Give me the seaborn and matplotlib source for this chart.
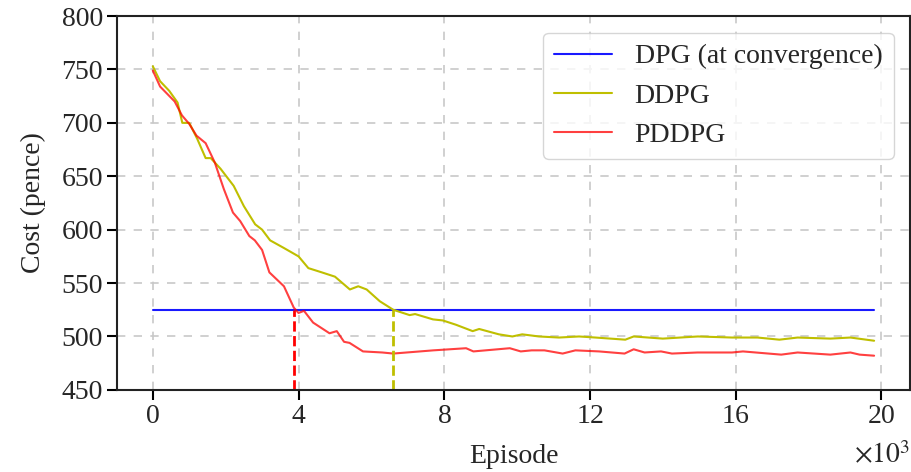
#!/usr/bin/env python3

import numpy as np
import matplotlib
matplotlib.use('Agg')
import matplotlib.pyplot as plt
import pandas as pd
import seaborn as sns

# Data (episodes, cost in pence)
dpg_x = [0, 19800]
dpg_y = [525, 525]

ddpg_x = [0, 200, 450, 680, 810, 1000, 1220, 1450, 1590, 1860, 2220, 2500, 2810, 3000,
          3220, 3590, 4000, 4270, 4640, 5000, 5410, 5640, 5870, 6230, 6600, 7050, 7200,
          7690, 7960, 8320, 8780, 8960, 9500, 9870, 10140, 10600, 11150, 11700, 12150,
          12970, 13200, 14000, 14960, 15900, 16600, 17200, 17700, 18600, 19150, 19800]
ddpg_y = [753, 739, 730, 719, 700, 700, 685, 667, 667, 657, 641, 622, 605, 600,
          590, 583, 575, 564, 560, 556, 544, 547, 544, 533, 525, 520, 521,
          516, 515, 511, 505, 507, 502, 500, 502, 500, 499, 500, 499,
          497, 500, 498, 500, 499, 499, 497, 499, 498, 499, 496]

pddpg_x = [0, 200, 600, 800, 1000, 1200, 1450, 1700, 1950, 2200, 2400, 2650, 2800, 3000,
           3200, 3600, 3870, 4000, 4150, 4400, 4850, 5050, 5250, 5400, 5770, 6300, 6600,
           7700, 8600, 8800, 9800, 10100, 10400, 10750, 11250, 11600, 12250, 12950, 13200,
           13500, 13950, 14250, 14950, 15900, 16200, 17250, 17700, 18600, 19150, 19400, 19800]
pddpg_y = [749, 734, 720, 707, 699, 688, 681, 663, 638, 616, 608, 594, 590, 581,
           560, 547, 527, 522, 524, 513, 503, 505, 495, 494, 486, 485, 484,
           487, 489, 486, 489, 486, 487, 487, 484, 487, 486, 484, 488,
           485, 486, 484, 485, 485, 486, 483, 485, 483, 485, 483, 482]

# episodes where each method reaches the DPG level
cross_x = [3870, 6600]
cross_colors = ['red', 'y']

sns.set_style('ticks')
plt.rcParams['font.family'] = ['Liberation Serif', 'DejaVu Serif']
plt.rcParams['mathtext.fontset'] = 'stix'

fs = 20
fig, ax = plt.subplots(figsize=(9.12, 4.72), dpi=100)
fig.subplots_adjust(left=0.128, right=0.998, top=0.966, bottom=0.174)

sns.lineplot(x=dpg_x, y=dpg_y, color='blue', lw=1.5, alpha=0.9, label='DPG (at convergence)', ax=ax)
sns.lineplot(x=ddpg_x, y=ddpg_y, color='y', lw=1.5, label='DDPG', ax=ax)
sns.lineplot(x=pddpg_x, y=pddpg_y, color='red', lw=1.5, alpha=0.75, label='PDDPG', ax=ax)

for cx, c in zip(cross_x, cross_colors):
    ax.vlines(cx, 450, dpg_y[0], colors=c, linestyles='--', lw=2)

ax.set_ylim(450, 800)
ax.set_yticks(np.arange(450, 801, 50))
ax.set_xticks(np.arange(0, 20001, 4000))
ax.ticklabel_format(axis='x', style='sci', scilimits=(3, 3), useMathText=True)
ax.xaxis.get_offset_text().set_visible(False)
fig.text(0.998, 0.035, r'$\times10^{3}$', fontsize=fs, ha='right', va='center')
ax.grid(True, ls=(0, (5, 5)), color='#c8c8c8', lw=1.2)

ax.set_xlabel('Episode', fontsize=fs, labelpad=11)
ax.set_ylabel('Cost (pence)', fontsize=fs, labelpad=11)
ax.tick_params(labelsize=fs, length=7, width=1.5, color='black', pad=3)
for s in ax.spines.values():
    s.set_linewidth(1.5)
    s.set_color('#222222')

leg = ax.legend(loc='upper right', fontsize=fs, frameon=True, fancybox=True,
                handlelength=2.1, borderaxespad=0.6)

plt.savefig('out.png', dpi=100)
